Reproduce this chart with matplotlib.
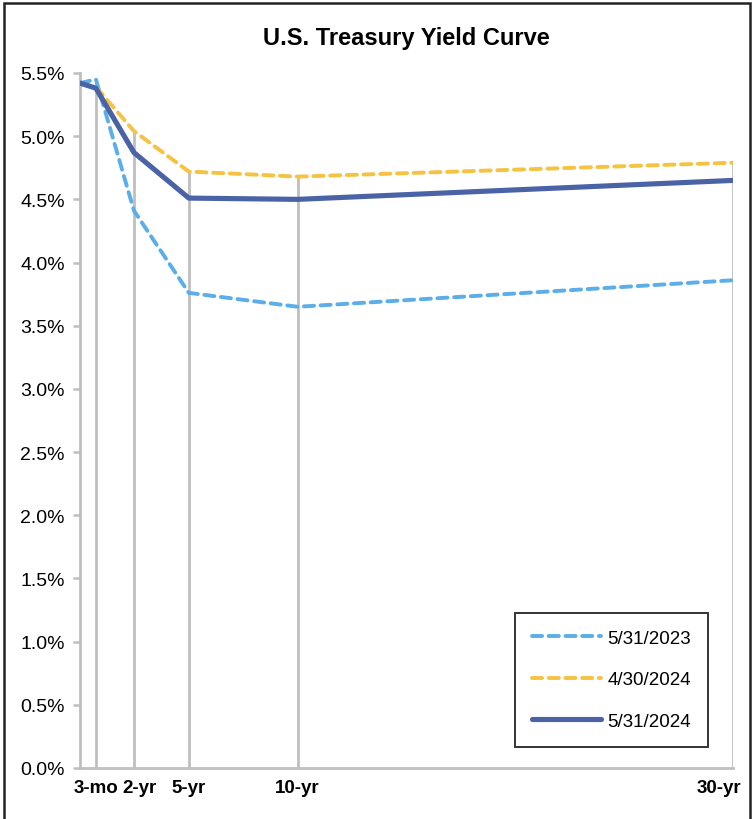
import matplotlib
matplotlib.use('Agg')
import matplotlib.pyplot as plt
import matplotlib.transforms as mtransforms
from matplotlib.ticker import PercentFormatter, MultipleLocator
import numpy as np

plt.rcParams['font.family'] = ['Liberation Sans', 'DejaVu Sans']

# maturity positions on the x axis (years)
mat_x = [0, 0.73, 2.48, 5, 10, 30]
tick_x = [0.73, 2.48, 5, 10, 30]
tick_labels = ['3-mo', '2-yr', '5-yr', '10-yr', '30-yr']

y_2023 = [5.42, 5.45, 4.41, 3.76, 3.65, 3.86]
y_apr24 = [5.42, 5.39, 5.04, 4.72, 4.68, 4.79]
y_may24 = [5.42, 5.38, 4.87, 4.51, 4.50, 4.65]

fig = plt.figure(figsize=(7.54, 8.20), dpi=100)
ax = fig.add_axes([80/754, 1-769/820, (733-80)/754, (769-74)/820])

grey = '#BFBFBF'
# drop lines from the highest point down to the axis
tops = np.max([y_2023, y_apr24, y_may24], axis=0)
ax.vlines(mat_x[1:], 0, tops[1:], color=grey, lw=2.0, zorder=1)

ax.plot(mat_x, y_2023, color='#5BAEE8', lw=2.8, ls=(0, (2.6, 1.7)),
        dash_capstyle='round', label='5/31/2023', zorder=3)
ax.plot(mat_x, y_apr24, color='#F5C242', lw=2.8, ls=(0, (2.6, 1.7)),
        dash_capstyle='round', label='4/30/2024', zorder=3)
ax.plot(mat_x, y_may24, color='#4A62A6', lw=3.7, solid_capstyle='round',
        label='5/31/2024', zorder=4)

ax.set_xlim(0, 30)
ax.set_ylim(0, 5.5)
ax.yaxis.set_major_locator(MultipleLocator(0.5))
ax.yaxis.set_major_formatter(PercentFormatter(decimals=1))
ax.set_xticks(tick_x)
ax.set_xticklabels(tick_labels, fontweight='bold', fontsize=13.5)
ax.tick_params(axis='x', length=0, pad=8)
ax.tick_params(axis='y', length=5, width=1.8, color=grey, labelsize=14, pad=6)

# nudge crowded labels like the original
offsets = {'2-yr': 6, '30-yr': -14}
for lab in ax.get_xticklabels():
    dx = offsets.get(lab.get_text(), 0)
    if dx:
        lab.set_transform(lab.get_transform() +
                          mtransforms.ScaledTranslation(dx/100, 0, fig.dpi_scale_trans))

for s in ['top', 'right']:
    ax.spines[s].set_visible(False)
for s in ['left', 'bottom']:
    ax.spines[s].set_color(grey)
    ax.spines[s].set_linewidth(2.0)

ax.set_title('U.S. Treasury Yield Curve', fontsize=17, fontweight='bold', pad=21)

leg = ax.legend(loc='upper right', bbox_to_anchor=(708/754, 1-614/820),
                bbox_transform=fig.transFigure, borderaxespad=0, fontsize=13.5,
                handlelength=3.7, handletextpad=0.35, labelspacing=1.3,
                borderpad=0.9, fancybox=False, frameon=True)
leg.get_frame().set_edgecolor('black')
leg.get_frame().set_linewidth(1.4)

# outer chart border
fig.patches.append(plt.Rectangle((4/754, -0.01), 746/754, 1.01-4/820,
                                 transform=fig.transFigure, fill=False,
                                 edgecolor='#222222', lw=1.8))

fig.savefig('out.png', dpi=100)
